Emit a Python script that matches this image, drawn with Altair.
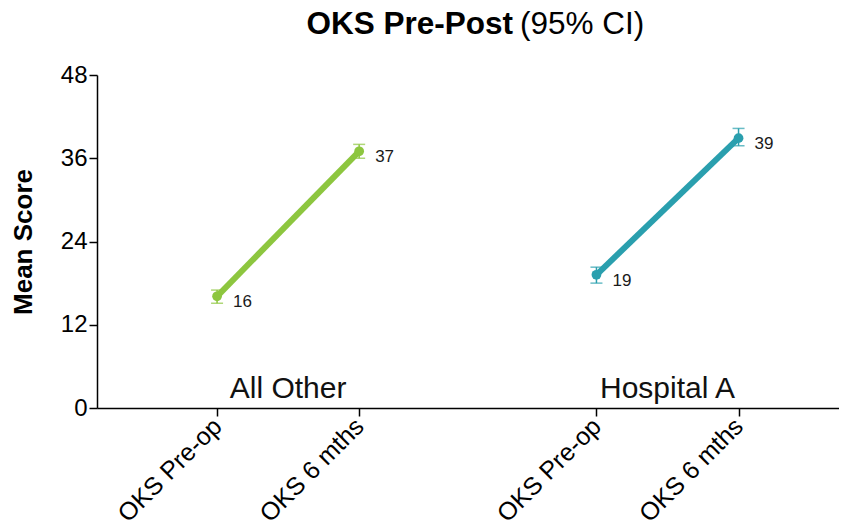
import altair as alt
import pandas as pd

# ---- data ----
groups = ["All Other", "All Other", "Hospital A", "Hospital A"]
times = ["OKS Pre-op", "OKS 6 mths", "OKS Pre-op", "OKS 6 mths"]
means = [16.1, 37.0, 19.2, 38.9]
ci_low = [15.1, 36.0, 18.0, 37.8]
ci_high = [17.0, 38.0, 20.3, 40.3]
value_labels = ["16", "37", "19", "39"]

group_names = ["All Other", "Hospital A"]
time_names = ["OKS Pre-op", "OKS 6 mths"]
colors = ["#8DC63F", "#2A9FAE"]
y_ticks = [0, 12, 24, 36, 48]
title_bold = "OKS Pre-Post"
title_normal = "(95% CI)"
y_title = "Mean Score"

FONT = "Liberation Sans"
GAP = 2.67

df = pd.DataFrame({
    "group": groups, "time": times, "mean": means,
    "lo": ci_low, "hi": ci_high, "label": value_labels,
})
gdf = pd.DataFrame({"group": group_names})

xpos = (f"(datum.group == '{group_names[1]}' ? {GAP} : 0)"
        f" + (datum.time == '{time_names[1]}' ? 1 : 0)")
label_expr = (f"(datum.value == 0 || datum.value == {GAP}) ? "
              f"'{time_names[0]}' : '{time_names[1]}'")

axis_style = dict(labelFont=FONT, titleFont=FONT, labelColor="#000",
                  titleColor="#000", domainColor="#000", domainWidth=1.5,
                  tickColor="#000", tickWidth=1.5, tickSize=8, grid=False)

x_enc = alt.X(
    "xp:Q",
    scale=alt.Scale(domain=[-0.845, 4.377], nice=False, zero=False),
    axis=alt.Axis(values=[0, 1, GAP, GAP + 1], labelExpr=label_expr,
                  labelAngle=-45, labelAlign="right", labelBaseline="middle",
                  labelFontSize=25, labelPadding=6, title=None, **axis_style),
)
y_scale = alt.Scale(domain=[0, 48], nice=False)
y_enc = alt.Y(
    "mean:Q", scale=y_scale,
    axis=alt.Axis(values=y_ticks, title=y_title, labelFontSize=24,
                  labelPadding=2, titleFontSize=26, titleFontWeight="bold",
                  titlePadding=24, **axis_style),
)
color_enc = alt.Color("group:N", scale=alt.Scale(domain=group_names, range=colors),
                      legend=None)

base = alt.Chart(df).transform_calculate(xp=xpos)

line = base.mark_line(strokeWidth=6).encode(x=x_enc, y=y_enc, color=color_enc)
rules = base.mark_rule(strokeWidth=1.5).encode(
    x=x_enc, y=alt.Y("lo:Q", scale=y_scale), y2="hi:Q", color=color_enc)
cap_lo = base.mark_tick(orient="horizontal", size=12, thickness=1.5).encode(
    x=x_enc, y=alt.Y("lo:Q", scale=y_scale), color=color_enc)
cap_hi = base.mark_tick(orient="horizontal", size=12, thickness=1.5).encode(
    x=x_enc, y=alt.Y("hi:Q", scale=y_scale), color=color_enc)
points = base.mark_circle(size=95, opacity=1).encode(x=x_enc, y=y_enc, color=color_enc)
vlabels = base.mark_text(align="left", baseline="middle", dx=16, dy=6,
                         fontSize=17, font=FONT, color="#1a1a1a").encode(
    x=x_enc, y=y_enc, text="label:N")

glabels = alt.Chart(gdf).transform_calculate(
    xp=f"(datum.group == '{group_names[1]}' ? {GAP} : 0) + 0.5"
).mark_text(fontSize=30, font=FONT, baseline="alphabetic", color="#111").encode(
    x=x_enc, y=alt.value(323), text="group:N")

t1 = alt.Chart(pd.DataFrame({"t": [title_bold]})).mark_text(
    align="right", baseline="middle", fontSize=31.5, fontWeight="bold", font=FONT,
    color="#000").encode(x=alt.value(416), y=alt.value(-50), text="t:N")
t2 = alt.Chart(pd.DataFrame({"t": [title_normal]})).mark_text(
    align="left", baseline="middle", fontSize=31.5, font=FONT,
    color="#000").encode(x=alt.value(423), y=alt.value(-50), text="t:N")

chart = alt.layer(line, rules, cap_lo, cap_hi, points, vlabels, glabels, t1, t2).properties(
    width=742, height=333,
    background="white",
    autosize=alt.AutoSizeParams(type="none"),
    padding={"left": 89, "top": 67, "right": 0, "bottom": 113},
).configure_view(strokeWidth=0, stroke="transparent")

chart.save("out.html", embed_options={"renderer": "svg", "actions": False})
